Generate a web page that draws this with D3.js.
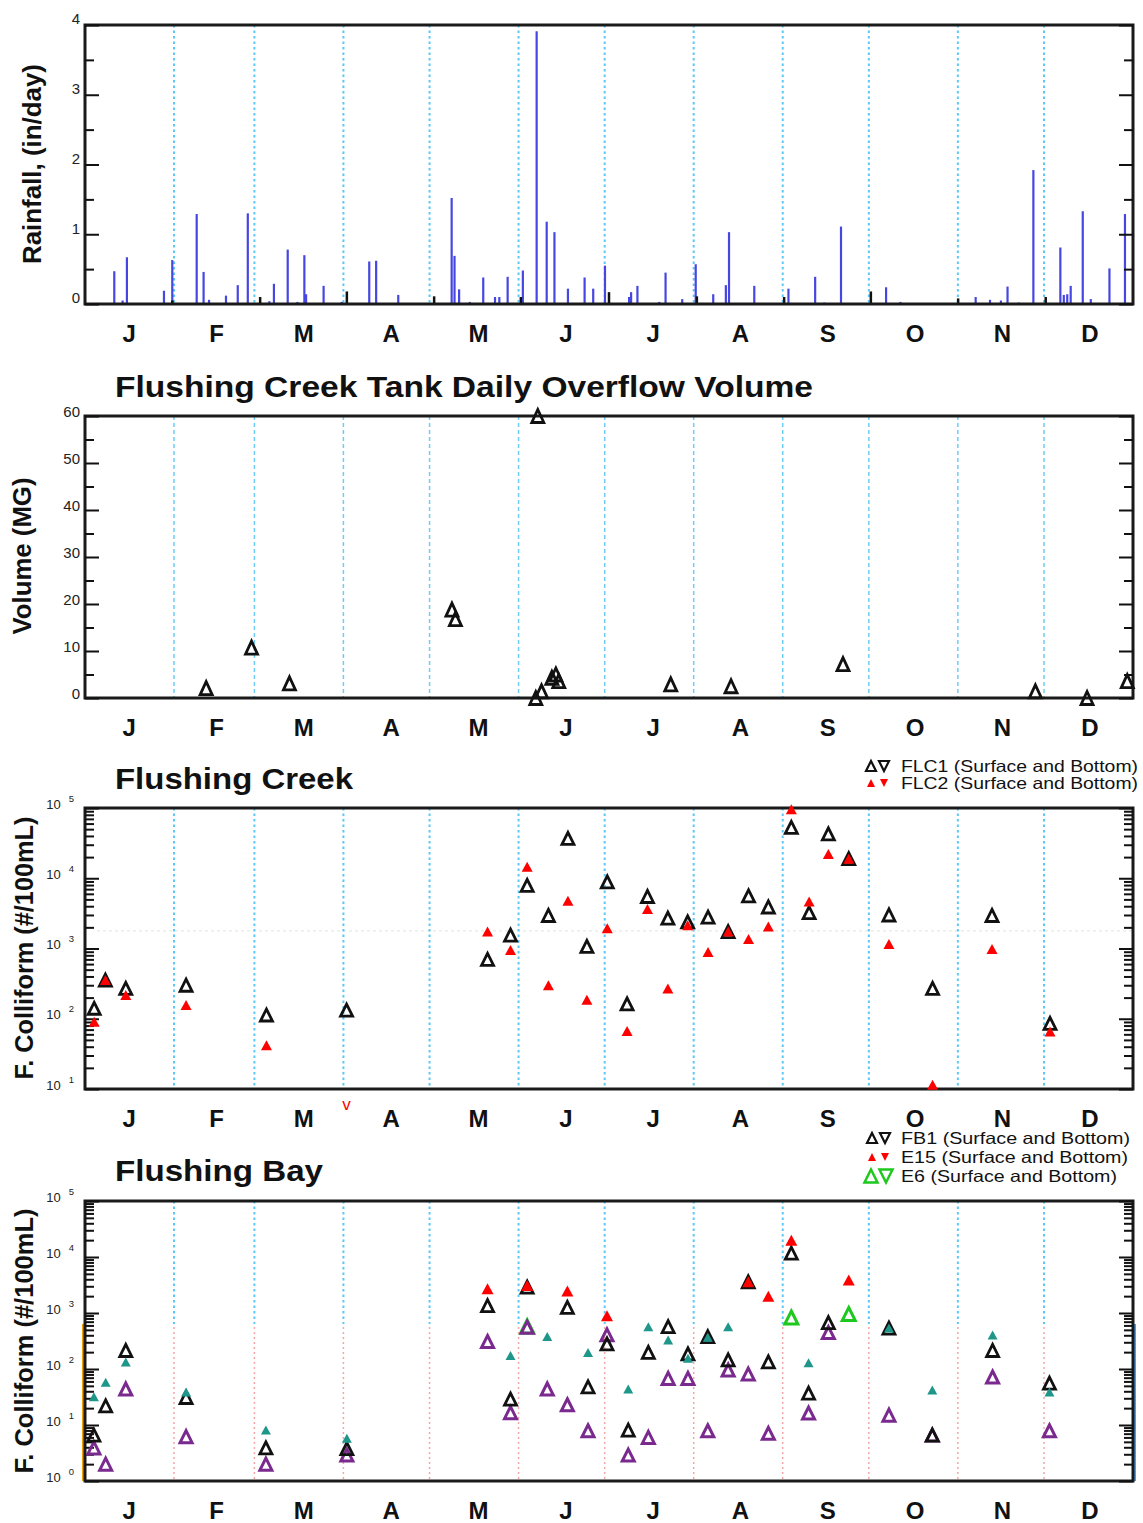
<!DOCTYPE html>
<html><head><meta charset="utf-8">
<script src="https://cdn.jsdelivr.net/npm/d3@7"></script>
<style>
body{margin:0;background:#fff}
svg{display:block}
text{font-family:"Liberation Sans",Arial,Helvetica,sans-serif}
</style>
</head><body>
<svg id="c" width="1143" height="1523"></svg>
<script>
// ---------------- DATA ----------------
const monthNames = ["J","F","M","A","M","J","J","A","S","O","N","D"];
const monthStarts = [0,31,59,90,120,151,181,212,243,273,304,334,365];

// Rainfall (day of year, in/day)
const rain = [[10.2,0.47],[13.1,0.05],[14.6,0.67],[27.5,0.19],[30.4,0.63],[38.9,1.29],[41.3,0.46],[43.2,0.06],
[49.1,0.12],[53.2,0.27],[56.7,1.30],[64.2,0.04],[65.8,0.29],[70.6,0.78],[74.0,0.03],[76.4,0.70],[77.0,0.14],
[83.1,0.26],[89.4,0.03],[99.0,0.61],[101.4,0.62],[109.1,0.13],[127.7,1.52],[128.7,0.69],[130.3,0.21],[134.0,0.03],
[138.7,0.38],[142.8,0.10],[144.3,0.10],[147.2,0.39],[152.5,0.48],[157.3,3.91],[160.8,1.18],[163.5,1.03],[168.2,0.22],
[174.0,0.38],[177.0,0.22],[181.1,0.55],[189.5,0.10],[190.2,0.17],[192.4,0.26],[200.0,0.03],[202.2,0.45],[208.0,0.07],
[212.7,0.57],[218.8,0.14],[223.2,0.27],[224.3,1.03],[233.1,0.26],[245.0,0.22],[254.3,0.39],[257.5,0.02],[263.3,1.11],
[279.0,0.24],[284.0,0.03],[310.2,0.10],[315.2,0.06],[319.0,0.05],[321.3,0.25],[325.2,0.02],[330.3,1.92],[339.7,0.81],
[340.9,0.13],[342.1,0.14],[343.3,0.26],[347.5,1.33],[350.3,0.07],[356.8,0.51],[362.2,1.29]];
// small black bars near month starts
const rainStubs = [[30.4,0.05],[61.0,0.10],[91.2,0.18],[121.6,0.11],[151.8,0.10],[182.5,0.17],[213.1,0.11],
[243.5,0.10],[273.7,0.18],[304.1,0.08],[334.6,0.10]];

// Flushing Creek Tank daily overflow (day, MG)
const tankOverflow = [[42.2,2.1],[58.0,10.7],[71.2,3.1],[127.8,18.8],[129.0,16.8],[157.0,0],[157.7,60],[159.0,1.4],
[162.6,4.3],[164.0,5.0],[165.0,3.6],[204.0,2.9],[225.0,2.5],[264.0,7.2],[331.0,1.4],[349.0,0],[363.0,3.6]];

// Flushing Creek fecal coliform (#/100mL)
const flc1 = [[3.2,141],[7.1,355],[14.2,270],[35.2,300],[63.2,113],[91.1,133],[140.2,700],[148.2,1550],[154.0,7900],
[161.4,2950],[168.2,37000],[174.8,1070],[181.9,8900],[188.8,163],[195.9,5500],[203.0,2700],[209.9,2400],[217.0,2800],
[224.0,1740],[231.1,5600],[238.0,3900],[246.0,53000],[252.2,3250],[258.9,42700],[266.0,19000],[280.0,3000],
[295.2,270],[315.9,2950],[336.1,86]];
const flc2 = [[3.2,91],[7.1,355],[14.2,218],[35.2,157],[63.2,42],[91.1,5],[140.2,1740],[148.2,955],[154.0,14600],
[161.4,300],[168.2,4800],[174.8,186],[181.9,1950],[188.8,67],[195.9,3650],[203.0,270],[209.9,2150],[217.0,890],
[224.0,1740],[231.1,1365],[238.0,2050],[246.0,96000],[252.2,4650],[258.9,22100],[266.0,19000],[280.0,1160],
[295.2,11.5],[315.9,980],[336.1,66]];
const flcGuide = 1780;

// Flushing Bay fecal coliform (#/100mL)
const fb1 = [[3.1,6.6],[7.2,22],[14.2,214],[35.2,31],[63.0,3.9],[91.2,3.8],[140.2,1350],[148.2,29],[154.0,2900],
[168.0,1260],[175.2,48],[181.8,280],[189.2,8.1],[196.2,198],[203.1,570],[210.0,186],[216.9,380],[224.0,145],
[231.0,3600],[238.0,134],[246.0,11700],[252.0,37],[258.9,672],[280.0,537],[295.1,6.6],[316.1,214],[335.9,56]];
const e15 = [[140.2,2700],[154.0,3100],[168.0,2460],[181.8,890],[231.0,3600],[238.0,2000],[246.0,20000],[266.0,3900]];
const e6 = [[154.0,575],[246.0,830],[266.0,960]];
const bayTeal = [[3.1,32],[7.2,58],[14.2,134],[35.2,39],[63.0,8.1],[91.2,5.8],[148.2,174],[161.0,380],[175.2,198],
[189.2,44],[196.2,570],[203.1,330],[210.0,156],[216.9,370],[224.0,570],[252.0,129],[280.0,537],[295.1,42],
[316.1,405],[335.9,39]];
const bayPurple = [[3.1,3.9],[7.2,2.0],[14.2,44],[35.2,6.2],[63.0,2.0],[91.2,2.9],[140.2,310],[148.2,16.6],[154.0,556],
[161.0,44],[168.0,23],[175.2,7.9],[181.8,407],[189.2,2.9],[196.2,6.0],[203.1,68],[210.0,68],[216.9,7.9],[224.0,96],
[231.0,81],[238.0,7.1],[252.0,16.3],[258.9,447],[280.0,15],[295.1,6.6],[316.1,72],[335.9,7.9]];

const rainTicks = [0,1,2,3,4];
const tankTicks = [0,10,20,30,40,50,60];

// ---------------- DRAWING ----------------
const svg = d3.select("#c");
const X0 = 85, X1 = 1133;
const x = d3.scaleLinear().domain([0,365]).range([X0,X1]);
const FONT = '"Liberation Sans",Arial,Helvetica,sans-serif';

const tri = (w,h)=>`M0,${-h/2}L${w/2},${h/2}L${-w/2},${h/2}Z`;
const triDown = (w,h)=>`M0,${h/2}L${w/2},${-h/2}L${-w/2},${-h/2}Z`;

function dividers(g, top, bottom, color, dash, width){
  g.append("g").selectAll("line").data(monthStarts.slice(1,12)).join("line")
    .attr("x1",d=>x(d)).attr("x2",d=>x(d)).attr("y1",top).attr("y2",bottom)
    .attr("stroke",color).attr("stroke-width",width).attr("stroke-dasharray",dash);
}
function frame(g, top, bottom){
  g.append("rect").attr("x",X0).attr("y",top).attr("width",X1-X0).attr("height",bottom-top)
    .attr("fill","none").attr("stroke","#1a1a1a").attr("stroke-width",3);
}
function monthAxis(g, bottom){
  const mids = monthNames.map((m,i)=>(i+0.5)*365/12);
  const ax = g.append("g").attr("transform",`translate(0,${bottom})`)
    .call(d3.axisBottom(x).tickValues(mids).tickFormat((d,i)=>monthNames[i]).tickSize(0).tickPadding(21));
  ax.select(".domain").remove();
  ax.selectAll("text").attr("font-size",24).attr("font-weight","bold").attr("fill","#111")
    .attr("font-family",FONT);
}
function linAxes(g, y, major, minor, labelDy){
  const l = g.append("g").attr("transform",`translate(${X0},0)`)
    .call(d3.axisLeft(y).tickValues(major).tickSize(-14).tickPadding(5).tickFormat(d3.format("d")));
  l.selectAll("text").attr("font-size",15).attr("fill","#222").attr("y",labelDy).attr("font-family",FONT);
  const l2 = g.append("g").attr("transform",`translate(${X0},0)`)
    .call(d3.axisLeft(y).tickValues(minor).tickSize(-9).tickFormat(""));
  const r = g.append("g").attr("transform",`translate(${X1},0)`)
    .call(d3.axisRight(y).tickValues(major).tickSize(-14).tickFormat(""));
  const r2 = g.append("g").attr("transform",`translate(${X1},0)`)
    .call(d3.axisRight(y).tickValues(minor).tickSize(-9).tickFormat(""));
  [l,l2,r,r2].forEach(a=>{a.select(".domain").remove(); a.selectAll("line").attr("stroke","#111").attr("stroke-width",2);});
}
function logAxes(g, y){
  const [lo,hi] = y.domain();
  const major=[], minor=[];
  for(let d=lo; d<=hi*1.0001; d*=10){ major.push(d); if(d<hi*0.99) for(let k=2;k<10;k++) minor.push(d*k); }
  const l = g.append("g").attr("transform",`translate(${X0},0)`)
    .call(d3.axisLeft(y).tickValues(major).tickSize(-14).tickPadding(11).tickFormat(()=>"10"));
  l.selectAll("text").attr("font-size",13).attr("fill","#222").attr("dy",0).attr("font-family",FONT)
    .append("tspan").attr("dx",8).attr("dy",-7).attr("font-size",9.5).text(d=>Math.round(Math.log10(d)));
  const l2 = g.append("g").attr("transform",`translate(${X0},0)`)
    .call(d3.axisLeft(y).tickValues(minor).tickSize(-9).tickFormat(""));
  const r = g.append("g").attr("transform",`translate(${X1},0)`)
    .call(d3.axisRight(y).tickValues(major).tickSize(-14).tickFormat(""));
  const r2 = g.append("g").attr("transform",`translate(${X1},0)`)
    .call(d3.axisRight(y).tickValues(minor).tickSize(-9).tickFormat(""));
  [l,l2,r,r2].forEach(a=>{a.select(".domain").remove(); a.selectAll("line").attr("stroke","#111").attr("stroke-width",2);});
}
function yTitle(g, str, bx, cy, len){
  g.append("text").attr("transform",`translate(${bx},${cy}) rotate(-90)`).attr("text-anchor","middle")
    .attr("font-size",25).attr("font-weight","bold").attr("fill","#111")
    .attr("textLength",len).attr("lengthAdjust","spacingAndGlyphs").text(str);
}
function title(g, str, x0, base, len){
  g.append("text").attr("x",x0).attr("y",base).attr("font-size",29).attr("font-weight","bold").attr("fill","#111")
    .attr("textLength",len).attr("lengthAdjust","spacingAndGlyphs").text(str);
}
function points(g, data, y, o){
  const [lo] = y.domain();
  const inR = data.filter(d=>d[1]>=lo);
  g.append("g").selectAll("path").data(inR).join("path")
    .attr("d", tri(o.w,o.h))
    .attr("transform",d=>`translate(${x(d[0])},${y(d[1])})`)
    .attr("fill", o.fill||"none").attr("stroke", o.stroke||"none").attr("stroke-width", o.sw||0);
  const below = data.filter(d=>d[1]<lo);
  g.append("g").selectAll("text").data(below).join("text")
    .attr("x",d=>x(d[0])).attr("y",y.range()[0]+21).attr("text-anchor","middle")
    .attr("font-size",17).attr("fill",o.fill||o.stroke).text("v");
}
function legendRow(g, y, sym, str, len){
  g.append("path").attr("d", tri(sym.w,sym.h)).attr("transform",`translate(${sym.x1},${y})`)
    .attr("fill",sym.fill||"none").attr("stroke",sym.stroke||"none").attr("stroke-width",sym.sw||0);
  g.append("path").attr("d", triDown(sym.w,sym.h)).attr("transform",`translate(${sym.x2},${y})`)
    .attr("fill",sym.fill||"none").attr("stroke",sym.stroke||"none").attr("stroke-width",sym.sw||0);
  g.append("text").attr("x",901).attr("y",y+6).attr("font-size",16.5).attr("fill","#111")
    .attr("textLength",len).attr("lengthAdjust","spacingAndGlyphs").text(str);
}

// ===== Panel 1: Rainfall =====
{
  const top=25, bottom=304;
  const g = svg.append("g");
  const y = d3.scaleLinear().domain([0,4]).range([bottom,top]);
  dividers(g, top, bottom, "#5cc8f5", "2.5,3", 2);
  g.append("g").selectAll("line").data(rain).join("line")
    .attr("x1",d=>x(d[0])).attr("x2",d=>x(d[0])).attr("y1",y(0)).attr("y2",d=>y(d[1]))
    .attr("stroke","#4646e2").attr("stroke-width",2.2);
  g.append("g").selectAll("line").data(rainStubs).join("line")
    .attr("x1",d=>x(d[0])).attr("x2",d=>x(d[0])).attr("y1",y(0)).attr("y2",d=>y(d[1]))
    .attr("stroke","#111").attr("stroke-width",2.5);
  frame(g, top, bottom);
  linAxes(g, y, rainTicks, [0.5,1.5,2.5,3.5], -6);
  monthAxis(g, bottom);
  yTitle(g, "Rainfall, (in/day)", 41, 164, 200);
}

// ===== Panel 2: Tank overflow =====
{
  const top=416, bottom=698;
  const g = svg.append("g");
  const y = d3.scaleLinear().domain([0,60]).range([bottom,top]);
  dividers(g, top, bottom, "#6fcdf5", "4,3", 1.5);
  frame(g, top, bottom);
  linAxes(g, y, tankTicks, [5,15,25,35,45,55], -4);
  points(g, tankOverflow, y, {w:12,h:13,stroke:"#111",sw:2.8});
  monthAxis(g, bottom);
  yTitle(g, "Volume (MG)", 31, 556, 157);
  title(g, "Flushing Creek Tank Daily Overflow Volume", 115, 397, 698);
}

// ===== Panel 3: Flushing Creek =====
{
  const top=808, bottom=1089;
  const g = svg.append("g");
  const y = d3.scaleLog().domain([10,1e5]).range([bottom,top]);
  g.append("line").attr("x1",X0+12).attr("x2",X1).attr("y1",y(flcGuide)).attr("y2",y(flcGuide))
    .attr("stroke","#e2e2e2").attr("stroke-width",1).attr("stroke-dasharray","3,3");
  dividers(g, top, bottom, "#5cc8f5", "2.5,3", 2);
  frame(g, top, bottom);
  logAxes(g, y);
  points(g, flc1, y, {w:12,h:12,stroke:"#111",sw:2.8});
  points(g, flc2, y, {w:11,h:10,fill:"#ff0000"});
  monthAxis(g, bottom);
  yTitle(g, "F. Colliform (#/100mL)", 33, 948, 263);
  title(g, "Flushing Creek", 115, 789, 238);
  legendRow(g, 766, {x1:871,x2:884,w:10,h:10,stroke:"#111",sw:2.2}, "FLC1 (Surface and Bottom)", 237);
  legendRow(g, 783, {x1:871,x2:884,w:8,h:8,fill:"#ff0000"}, "FLC2 (Surface and Bottom)", 237);
}

// ===== Panel 4: Flushing Bay =====
{
  const top=1201, bottom=1481, split=1324;
  const g = svg.append("g");
  const y = d3.scaleLog().domain([1,1e5]).range([bottom,top]);
  dividers(g, top, split, "#5cc8f5", "2.5,3", 2);
  dividers(g, split+3, bottom, "#f3a6a6", "2,3", 1.5);
  g.append("line").attr("x1",X0-2).attr("x2",X0-2).attr("y1",split).attr("y2",bottom).attr("stroke","#f0a000").attr("stroke-width",2);
  g.append("line").attr("x1",X1+2).attr("x2",X1+2).attr("y1",split).attr("y2",bottom).attr("stroke","#3aa0ff").attr("stroke-width",2);
  frame(g, top, bottom);
  logAxes(g, y);
  points(g, e6, y, {w:13,h:13,stroke:"#1ec81e",sw:3});
  points(g, bayPurple, y, {w:12,h:12,stroke:"#7a2a8e",sw:3});
  points(g, fb1, y, {w:12,h:12,stroke:"#111",sw:2.8});
  points(g, bayTeal, y, {w:10,h:9,fill:"#1f968a"});
  points(g, e15, y, {w:12,h:11,fill:"#ff0000"});
  monthAxis(g, bottom);
  yTitle(g, "F. Colliform (#/100mL)", 33, 1341, 265);
  title(g, "Flushing Bay", 115, 1181, 208);
  legendRow(g, 1138, {x1:872,x2:885,w:10,h:10,stroke:"#111",sw:2.2}, "FB1 (Surface and Bottom)", 229);
  legendRow(g, 1157, {x1:872,x2:885,w:8,h:8,fill:"#ff0000"}, "E15 (Surface and Bottom)", 227);
  legendRow(g, 1176, {x1:871,x2:886,w:13,h:13,stroke:"#1ec81e",sw:2.5}, "E6 (Surface and Bottom)", 216);
}
</script>
</body></html>
